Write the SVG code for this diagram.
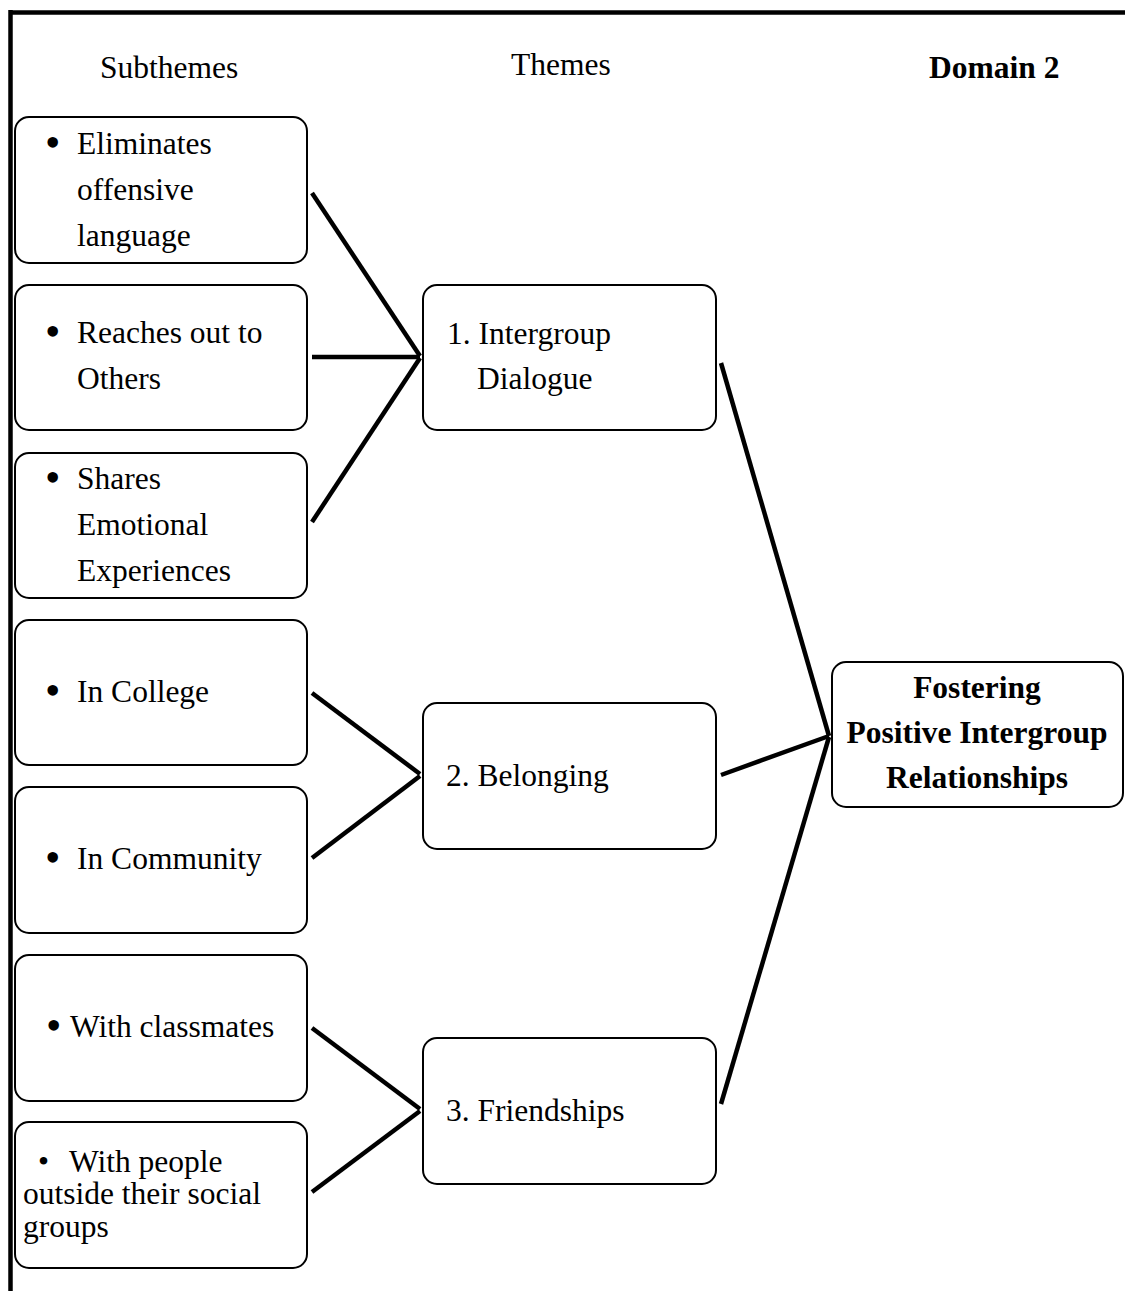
<svg xmlns="http://www.w3.org/2000/svg" width="1125" height="1291" viewBox="0 0 1125 1291">
  <style>
    .box { fill: #ffffff; stroke: #000000; stroke-width: 2; }
    .t { font-family: "Liberation Serif", "Times New Roman", serif; font-size: 31.5px; fill: #000000; }
    .b { font-weight: bold; }
    .dot { font-family: "Liberation Serif", "Times New Roman", serif; font-size: 44px; fill: #000000; }
    .edge { stroke: #000000; stroke-width: 4.5; fill: none; stroke-linecap: butt; }
    .frame { stroke: #000000; stroke-width: 4.5; fill: none; }
  </style>
  <rect width="1125" height="1291" fill="#ffffff"/>

  <!-- outer frame: top and left rules -->
  <g id="frame">
    <line class="frame" x1="10.5" y1="12.5" x2="1125" y2="12.5"/>
    <line class="frame" x1="10.5" y1="10" x2="10.5" y2="1291"/>
  </g>

  <!-- column headings -->
  <g id="headings">
    <text class="t" x="100" y="78">Subthemes</text>
    <text class="t" x="511" y="75">Themes</text>
    <text class="t b" x="929" y="78">Domain 2</text>
  </g>

  <!-- connectors -->
  <g id="connectors">
    <line class="edge" x1="312" y1="193" x2="420" y2="356"/>
    <line class="edge" x1="312" y1="357" x2="420" y2="357"/>
    <line class="edge" x1="312" y1="522" x2="420" y2="358"/>
    <line class="edge" x1="312" y1="693" x2="420" y2="774"/>
    <line class="edge" x1="312" y1="858" x2="420" y2="776"/>
    <line class="edge" x1="312" y1="1028" x2="420" y2="1109"/>
    <line class="edge" x1="312" y1="1192" x2="420" y2="1111"/>
    <line class="edge" x1="721" y1="363" x2="829" y2="736"/>
    <line class="edge" x1="721" y1="775" x2="829" y2="736"/>
    <line class="edge" x1="721" y1="1104" x2="829" y2="737"/>
  </g>

  <!-- subtheme nodes -->
  <g id="sub-eliminates">
    <rect class="box" x="15" y="117" width="292" height="146" rx="14"/>
    <text class="dot" x="45" y="157">•</text>
    <text class="t" x="77" y="154">Eliminates</text>
    <text class="t" x="77" y="200">offensive</text>
    <text class="t" x="77" y="246">language</text>
  </g>
  <g id="sub-reaches">
    <rect class="box" x="15" y="285" width="292" height="145" rx="14"/>
    <text class="dot" x="45" y="346">•</text>
    <text class="t" x="77" y="343">Reaches out to</text>
    <text class="t" x="77" y="389">Others</text>
  </g>
  <g id="sub-shares">
    <rect class="box" x="15" y="453" width="292" height="145" rx="14"/>
    <text class="dot" x="45" y="492">•</text>
    <text class="t" x="77" y="489">Shares</text>
    <text class="t" x="77" y="535">Emotional</text>
    <text class="t" x="77" y="581">Experiences</text>
  </g>
  <g id="sub-college">
    <rect class="box" x="15" y="620" width="292" height="145" rx="14"/>
    <text class="dot" x="45" y="705">•</text>
    <text class="t" x="77" y="702">In College</text>
  </g>
  <g id="sub-community">
    <rect class="box" x="15" y="787" width="292" height="146" rx="14"/>
    <text class="dot" x="45" y="872">•</text>
    <text class="t" x="77" y="869">In Community</text>
  </g>
  <g id="sub-classmates">
    <rect class="box" x="15" y="955" width="292" height="146" rx="14"/>
    <text class="dot" x="46" y="1040">•</text>
    <text class="t" x="70" y="1037">With classmates</text>
  </g>
  <g id="sub-outside">
    <rect class="box" x="15" y="1122" width="292" height="146" rx="14"/>
    <text class="t" x="38" y="1172">•<tspan x="69">With people</tspan></text>
    <text class="t" x="23" y="1204">outside their social</text>
    <text class="t" x="23" y="1237">groups</text>
  </g>

  <!-- theme nodes -->
  <g id="theme-dialogue">
    <rect class="box" x="423" y="285" width="293" height="145" rx="14"/>
    <text class="t" x="447" y="344">1. Intergroup</text>
    <text class="t" x="477" y="389">Dialogue</text>
  </g>
  <g id="theme-belonging">
    <rect class="box" x="423" y="703" width="293" height="146" rx="14"/>
    <text class="t" x="446" y="786">2. Belonging</text>
  </g>
  <g id="theme-friendships">
    <rect class="box" x="423" y="1038" width="293" height="146" rx="14"/>
    <text class="t" x="446" y="1121">3. Friendships</text>
  </g>

  <!-- domain node -->
  <g id="domain">
    <rect class="box" x="832" y="662" width="291" height="145" rx="14"/>
    <text class="t b" x="977" y="698" text-anchor="middle">Fostering</text>
    <text class="t b" x="977" y="743" text-anchor="middle">Positive Intergroup</text>
    <text class="t b" x="977" y="788" text-anchor="middle">Relationships</text>
  </g>
</svg>
